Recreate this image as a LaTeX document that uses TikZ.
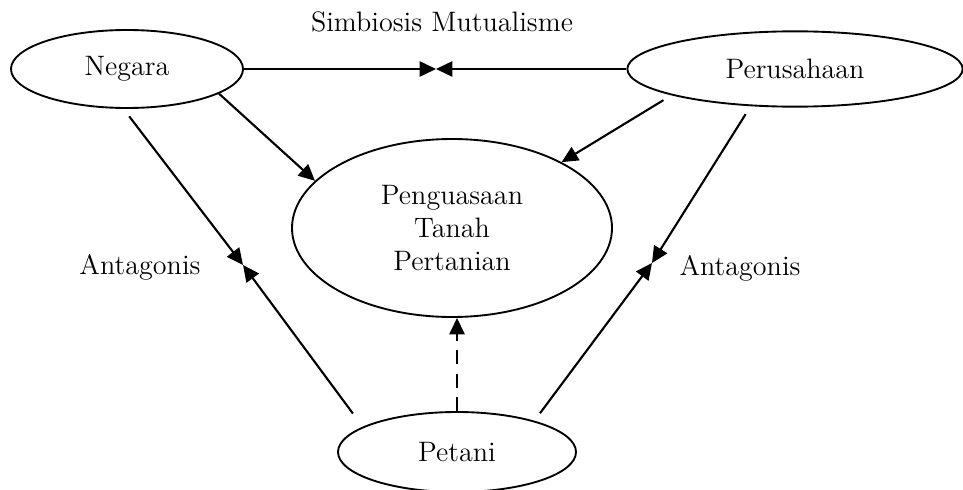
\documentclass[tikz,border=0pt]{standalone}
\usepackage{tikz}
\usetikzlibrary{positioning, calc, arrows.meta, shapes.geometric}

\begin{document}
\begin{tikzpicture}[
    >={Triangle[length=7pt, width=6.5pt]},
    actor/.style={draw, ellipse, line width=0.8pt, inner sep=0pt, align=center, font=\large},
    arr/.style={->, line width=0.9pt},
    gap/.style={shorten <=#1},
    lbl/.style={font=\large},
]

% ===== Page frame =====
\useasboundingbox (0,0) rectangle (14.445,-7.335);

% ===== Actors =====
\node[actor, minimum width=3.48cm, minimum height=1.17cm] (neg) at (1.905,-1.035) {Negara};
\node[actor, minimum width=5.03cm, minimum height=1.13cm] (per) at (11.925,-1.035) {Perusahaan};
\node[actor, minimum width=4.8cm, minimum height=2.67cm] (peng) at (6.78,-3.42) {Penguasaan\\Tanah\\Pertanian};
\node[actor, minimum width=3.57cm, minimum height=1.2cm] (pet) at (6.855,-6.78) {Petani};

% meeting points of the arrow pairs
\coordinate (mid) at (6.54,-1.035);
\coordinate (lmeet) at (3.645,-3.975);
\coordinate (rmeet) at (9.78,-3.945);

% ===== Labels =====
\node[lbl] (simb) at (6.63,-0.33) {Simbiosis Mutualisme};
\node[lbl] (antl) at (2.1,-4.005) {Antagonis};
\node[lbl] (antr) at (11.1,-4.02) {Antagonis};

% ===== Mutualism =====
\draw[arr] (neg.east) -- (mid);
\draw[arr] (per.west) -- (mid);

% ===== Towards land control =====
\draw[arr] (neg.-15) -- (peng.161);
\draw[arr, gap=4pt] (per.-168) -- (peng.31);
\draw[arr, dashed, dash pattern=on 6pt off 4pt] (pet.north) -- (pet.north |- peng.south);

% ===== Antagonism =====
\draw[arr, gap=4pt] (neg.-95) -- (lmeet);
\draw[arr, gap=7pt] (pet.165) -- (lmeet);
\draw[arr, gap=4pt] (per.-140) -- (rmeet);
\draw[arr, gap=4pt] (pet.22) -- (rmeet);

\end{tikzpicture}
\end{document}
